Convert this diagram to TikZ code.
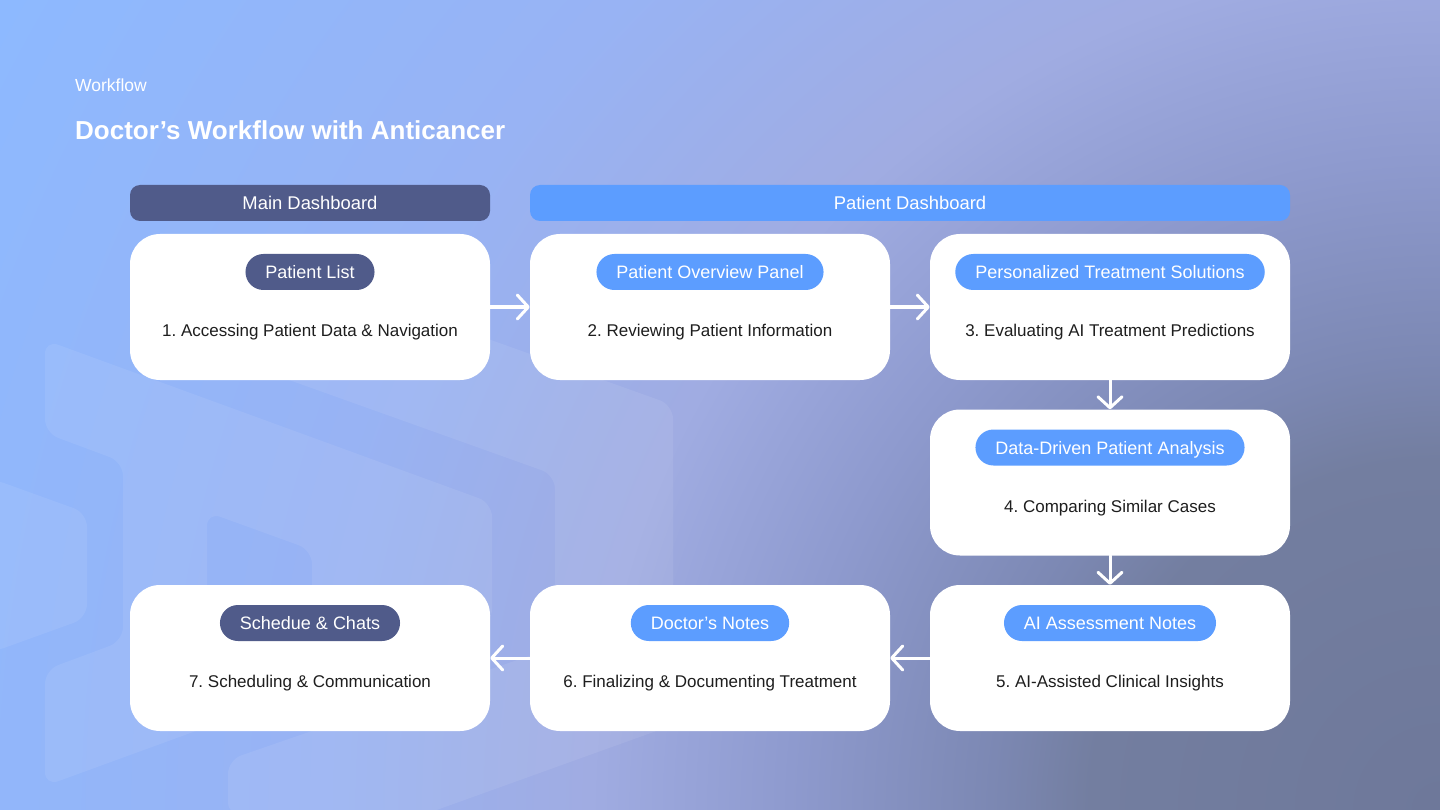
\documentclass[tikz,border=0pt]{standalone}
\usepackage{fontspec}
\setmainfont{Liberation Sans}
\usetikzlibrary{arrows.meta,positioning}
\definecolor{bgdeep}{RGB}{110,120,154}
\definecolor{bgslate}{RGB}{115,126,160}
\definecolor{bgdusk}{RGB}{124,136,179}
\definecolor{bgmid}{RGB}{142,154,206}
\definecolor{bglav}{RGB}{160,172,226}
\definecolor{bgsky}{RGB}{152,179,244}
\definecolor{bglight}{RGB}{141,185,255}
\definecolor{navycolor}{RGB}{80,91,138}
\definecolor{skycolor}{RGB}{92,157,255}
\definecolor{inkcolor}{RGB}{30,30,30}
\pgfdeclareradialshading{backdrop}{\pgfpoint{0bp}{0bp}}{color(0bp)=(bgdeep); color(5.15bp)=(bgslate); color(6.6bp)=(bgdusk); color(9.56bp)=(bgmid); color(12.5bp)=(bglav); color(16.9bp)=(bgsky); color(24.3bp)=(bglight); color(50bp)=(bglight)}
\frenchspacing
\tikzset{
    card/.style={fill=white, rounded corners=30pt, minimum width=360pt, minimum height=146pt, inner sep=0pt},
    band/.style={rounded corners=10pt, minimum height=36pt, inner sep=0pt, text=white, text height=13pt, text depth=0pt, font=\fontsize{18.4}{20}\selectfont},
    tag/.style={rounded corners=18pt, minimum height=36pt, inner xsep=20pt, inner ysep=0pt, text=white, text height=13pt, text depth=0pt, font=\fontsize{18}{20}\selectfont},
    stepnote/.style={text=inkcolor, inner sep=0pt, font=\fontsize{17}{20}\selectfont},
    flow/.style={white, line width=3pt, line cap=round, -{Straight Barb[length=11pt,width=24pt,round]}},
    logo/.style={fill=white, fill opacity=0.08, rounded corners=14pt}
}

\begin{document}
\begin{tikzpicture}[x=1pt,y=-1pt]
    \useasboundingbox (0,0) rectangle (1440,810);

    % Background and faint logo
    \begin{scope}
        \clip (0,0) rectangle (1440,810);
        \shade[shading=backdrop] (1440,810) circle (1700pt);
        \fill[logo,even odd rule] (45,340) -- (492,503) -- (492,623) -- (45,786) -- (45,670) -- (123,641) -- (123,462) -- (45,433) -- cycle
            (207,512) -- (312,550) -- (312,650) -- (207,690) -- cycle;
        \fill[logo] (250,254) -- (673,405) -- (673,725) -- (420,816) -- (228,816) -- (228,760) -- (555,647) -- (555,475) -- (250,366) -- cycle;
        \fill[logo] (-10,478) -- (87,513) -- (87,618) -- (-10,653) -- cycle;
    \end{scope}

    % Heading
    \node[anchor=base west, inner sep=0pt, text=white, font=\fontsize{17.5}{20}\selectfont] (kicker) at (75,92) {Workflow};
    \node[anchor=base west, inner sep=0pt, text=white, font=\bfseries\fontsize{26}{30}\selectfont] (title) at (75,140) {Doctor’s Workflow with Anticancer};

    % Dashboard bands
    \node[band, fill=navycolor, minimum width=360pt] (maindash) at (310,203) {Main Dashboard};
    \node[band, fill=skycolor, minimum width=760pt] (patientdash) at (910,203) {Patient Dashboard};

    % Workflow cards
    \foreach \id/\cx/\cy/\tagcol/\tagtext/\steptext in {
        b1/310/307/navycolor/Patient List/1. Accessing Patient Data \& Navigation,
        b2/710/307/skycolor/Patient Overview Panel/2. Reviewing Patient Information,
        b3/1110/307/skycolor/Personalized Treatment Solutions/3. Evaluating AI Treatment Predictions,
        b4/1110/482.5/skycolor/Data-Driven Patient Analysis/4. Comparing Similar Cases,
        b5/1110/658/skycolor/AI Assessment Notes/5. AI-Assisted Clinical Insights,
        b6/710/658/skycolor/Doctor’s Notes/6. Finalizing \& Documenting Treatment,
        b7/310/658/navycolor/Schedue \& Chats/7. Scheduling \& Communication} {
        \node[card] (\id) at (\cx,\cy) {};
        \node[tag, fill=\tagcol, below=20pt of \id.north] (\id-tag) {\tagtext};
        \node[stepnote, anchor=base] (\id-note) at ([yshift=-103pt]\id.north) {\steptext};
    }

    % Flow arrows
    \draw[flow] (b1) -- (b2);
    \draw[flow] (b2) -- (b3);
    \draw[flow] (b3) -- (b4);
    \draw[flow] (b4) -- (b5);
    \draw[flow] (b5) -- (b6);
    \draw[flow] (b6) -- (b7);
\end{tikzpicture}
\end{document}
